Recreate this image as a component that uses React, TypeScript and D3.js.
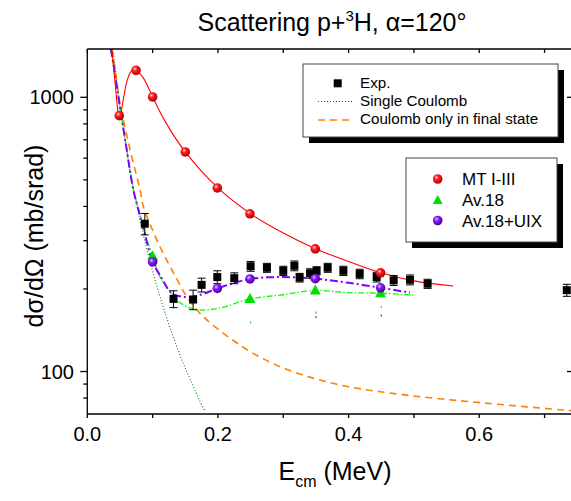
import React from 'react';
import * as d3 from 'd3';

const W = 571;
const H = 501;

// Experimental data
const expE = [0.088, 0.132, 0.162, 0.175, 0.199, 0.225, 0.250, 0.275, 0.300, 0.317, 0.325, 0.341, 0.351, 0.368, 0.392, 0.417, 0.443, 0.469, 0.494, 0.521, 0.734];
const expV = [346, 184, 183, 207, 221, 219, 242, 239, 233, 243, 220, 228, 233, 239, 233, 227, 221, 215, 216, 209, 198];
const expErr = [31, 13, 15, 12, 12, 10, 10, 9, 9, 10, 8, 9, 8, 9, 9, 9, 9, 9, 9, 8, 10];

// MT I-III
const mtCurveE = [0.0374, 0.040, 0.043, 0.046, 0.0485, 0.051, 0.054, 0.057, 0.060, 0.0654, 0.070, 0.0746, 0.080, 0.0858, 0.093, 0.100, 0.120, 0.150, 0.200, 0.250, 0.300, 0.350, 0.400, 0.450, 0.500, 0.560];
const mtCurveV = [1500, 1300, 1100, 927, 850, 870, 950, 1040, 1129, 1227, 1260, 1254, 1222, 1177, 1090, 1003, 810, 632, 467, 376, 320, 280, 252, 229, 214, 205];
const mtMarkE = [0.049, 0.0746, 0.100, 0.150, 0.199, 0.249, 0.349, 0.449];
const mtMarkV = [857, 1254, 1003, 632, 467, 376, 280, 229];

// Av.18
const avCurveE = [0.036, 0.040, 0.045, 0.050, 0.058, 0.0705, 0.080, 0.088, 0.100, 0.111, 0.127, 0.142, 0.1675, 0.203, 0.249, 0.295, 0.349, 0.397, 0.449, 0.499];
const avCurveV = [1500, 1320, 1100, 920, 700, 460, 380, 321, 263, 222, 196, 178, 168, 170.5, 184, 190, 197.6, 194, 193, 190];
const avMarkE = [0.100, 0.249, 0.349, 0.449];
const avMarkV = [263, 184, 197.6, 193];

// Av.18+UIX
const uixCurveE = [0.036, 0.040, 0.045, 0.050, 0.058, 0.0705, 0.080, 0.088, 0.100, 0.111, 0.129, 0.142, 0.157, 0.178, 0.199, 0.249, 0.295, 0.349, 0.397, 0.449, 0.494];
const uixCurveV = [1500, 1320, 1100, 920, 700, 460, 375, 318, 251, 225, 193, 188, 187, 192, 201, 217.5, 221, 218, 211, 202, 194];
const uixMarkE = [0.100, 0.199, 0.249, 0.349, 0.449];
const uixMarkV = [251, 201, 217.5, 218, 202];

// Coulomb only in final state
const cfE = [0.038, 0.044, 0.049, 0.0654, 0.0807, 0.0858, 0.111, 0.132, 0.152, 0.1726, 0.198, 0.25, 0.30, 0.35, 0.40, 0.489, 0.6116, 0.741];
const cfV = [1500, 1200, 980, 645, 460, 400, 286, 229, 188, 163, 144, 118, 103, 94, 88, 82, 76.6, 72];

// Single Coulomb
const scE = [0.040, 0.050, 0.060, 0.070, 0.080, 0.090, 0.100, 0.110, 0.120, 0.130, 0.140, 0.150, 0.160, 0.170, 0.180];
const scV = [1450, 930, 645, 474, 363, 287, 232, 192, 161, 137, 118, 103, 91, 80, 72];

// stray tiny dots
const strayGreenE = [0.25, 0.35, 0.45];
const strayGreenV = [151, 164, 172];
const strayPurpleE = [0.35, 0.45];
const strayPurpleV = [158, 160];

const xTicks = [0, 0.1, 0.2, 0.3, 0.4, 0.5, 0.6, 0.7];
const xTickLabels = ['0.0', '', '0.2', '', '0.4', '', '0.6', ''];
const yMajor = [100, 1000];
const yMinor = [80, 90, 200, 300, 400, 500, 600, 700, 800, 900];

const FONT = '"Liberation Sans", Arial, Helvetica, sans-serif';

export default function App() {
  const x = d3.scaleLinear().domain([0, 0.742]).range([87.3, 572]);
  const y = d3.scaleLog().domain([70, 1500]).range([414, 49]);
  const x0 = x(0), x1 = 572, yT = y(1500), yB = y(70);

  const mk = (xs: number[], ys: number[], curve: any) =>
    d3.line<[number, number]>().x(d => x(d[0])).y(d => y(d[1])).curve(curve)(xs.map((e, i) => [e, ys[i]] as [number, number])) || '';

  const mtPath = mk(mtCurveE, mtCurveV, d3.curveCatmullRom);
  const avPath = mk(avCurveE, avCurveV, d3.curveCatmullRom);
  const uixPath = mk(uixCurveE, uixCurveV, d3.curveCatmullRom);
  const cfPath = mk(cfE, cfV, d3.curveCatmullRom);
  const scPath = mk(scE, scV, d3.curveCatmullRom);

  const tri = (cx: number, cy: number, s: number) =>
    `M${cx},${cy - s * 0.6} L${cx + s * 0.55},${cy + s * 0.4} L${cx - s * 0.55},${cy + s * 0.4} Z`;

  return (
    <svg width={W} height={H} style={{ position: 'absolute', left: 0, top: 0, background: '#fff' }} fontFamily={FONT}>
      <defs>
        <clipPath id="plot">
          <rect x={x0} y={yT} width={x1 - x0} height={yB - yT} />
        </clipPath>
        <radialGradient id="gRed" cx="0.38" cy="0.35" r="0.65">
          <stop offset="0" stopColor="#ffd0d0" />
          <stop offset="0.35" stopColor="#ff2020" />
          <stop offset="1" stopColor="#b00000" />
        </radialGradient>
        <radialGradient id="gPur" cx="0.38" cy="0.35" r="0.65">
          <stop offset="0" stopColor="#e0c8ff" />
          <stop offset="0.35" stopColor="#8a20ff" />
          <stop offset="1" stopColor="#4a0098" />
        </radialGradient>
      </defs>

      {/* Title */}
      <text x={332} y={31} textAnchor="middle" fontSize={25} fill="#000">
        Scattering p+<tspan dy={-10} fontSize={15}>3</tspan><tspan dy={10}>H, α=120°</tspan>
      </text>

      {/* Curves */}
      <g clipPath="url(#plot)" fill="none">
        <path d={scPath} stroke="#008000" strokeWidth={1.1} strokeDasharray="1,2" />
        <path d={cfPath} stroke="#ff8000" strokeWidth={1.6} strokeDasharray="7,5" />
        <path d={avPath} stroke="#00ff00" strokeWidth={1.3} strokeDasharray="6,2,1.5,2" />
        <path d={uixPath} stroke="#8000ff" strokeWidth={2} strokeDasharray="8,3,2,3" />
        <path d={mtPath} stroke="#ff0000" strokeWidth={1.1} />
        {strayGreenE.map((e, i) => (
          <rect key={'sg' + i} x={x(e) - 0.5} y={y(strayGreenV[i]) - 1} width={1} height={2} fill="#00c000" />
        ))}
        {strayPurpleE.map((e, i) => (
          <rect key={'sp' + i} x={x(e) - 0.5} y={y(strayPurpleV[i]) - 1} width={1} height={2} fill="#6000c0" />
        ))}
      </g>

      {/* Exp data */}
      <g clipPath="url(#plot)">
        {expE.map((e, i) => {
          const cx = x(e), cy = y(expV[i]);
          const yt = y(expV[i] + expErr[i]), yb = y(expV[i] - expErr[i]);
          return (
            <g key={'ex' + i}>
              <line x1={cx} x2={cx} y1={yt} y2={yb} stroke="#000" strokeWidth={1} />
              <line x1={cx - 4} x2={cx + 4} y1={yt} y2={yt} stroke="#000" strokeWidth={1} />
              <line x1={cx - 4} x2={cx + 4} y1={yb} y2={yb} stroke="#000" strokeWidth={1} />
              <rect x={cx - 4} y={cy - 4} width={8} height={8} fill="#000" />
            </g>
          );
        })}
      </g>

      {/* Theory markers */}
      <g>
        {avMarkE.map((e, i) => (
          <path key={'av' + i} d={tri(x(e), y(avMarkV[i]), 10)} fill="#00e000" />
        ))}
        {mtMarkE.map((e, i) => (
          <circle key={'mt' + i} cx={x(e)} cy={y(mtMarkV[i])} r={4.8} fill="url(#gRed)" />
        ))}
        {uixMarkE.map((e, i) => (
          <circle key={'ux' + i} cx={x(e)} cy={y(uixMarkV[i])} r={4.8} fill="url(#gPur)" />
        ))}
      </g>

      {/* Axes */}
      <g stroke="#000" strokeWidth={1.3} fill="none">
        <line x1={x0} x2={x0} y1={yT} y2={yB} />
        <line x1={x0} x2={W} y1={yB} y2={yB} />
        <line x1={x0} x2={W} y1={yT} y2={yT} />
        {xTicks.map((t, i) => (
          <g key={'xt' + i}>
            <line x1={x(t)} x2={x(t)} y1={yB} y2={yB + 4} />
            <line x1={x(t)} x2={x(t)} y1={yT} y2={yT + 4} />
          </g>
        ))}
        {yMajor.map((t, i) => (
          <g key={'ym' + i}>
            <line x1={x0 - 7} x2={x0} y1={y(t)} y2={y(t)} />
            <line x1={x1 - 5} x2={x1} y1={y(t)} y2={y(t)} />
          </g>
        ))}
        {yMinor.map((t, i) => (
          <line key={'yn' + i} x1={x0 - 4} x2={x0} y1={y(t)} y2={y(t)} />
        ))}
      </g>
      <g fontSize={20} fill="#000">
        {xTicks.map((t, i) => xTickLabels[i] ? (
          <text key={'xl' + i} x={x(t)} y={441} textAnchor="middle">{xTickLabels[i]}</text>
        ) : null)}
        {yMajor.map((t, i) => (
          <text key={'yl' + i} x={74} y={y(t) + 7} textAnchor="end">{d3.format('d')(t)}</text>
        ))}
      </g>

      {/* Axis titles */}
      <text x={335} y={480} textAnchor="middle" fontSize={25} fill="#000">
        E<tspan dy={7} fontSize={16}>cm</tspan><tspan dy={-7}> (MeV)</tspan>
      </text>
      <text transform={`translate(43, 236) rotate(-90)`} textAnchor="middle" fontSize={25} fill="#000">
        dσ/dΩ (mb/srad)
      </text>

      {/* Legend 1 */}
      <g>
        <rect x={309} y={70} width={255} height={73} fill="#000" />
        <rect x={303} y={64} width={255} height={73} fill="#fff" stroke="#444" strokeWidth={1} />
        <rect x={333.7} y={79.3} width={8} height={8} fill="#000" />
        <line x1={318} x2={353} y1={101.5} y2={101.5} stroke="#008000" strokeWidth={1.1} strokeDasharray="1,2" />
        <line x1={318} x2={353} y1={120} y2={120} stroke="#ff8000" strokeWidth={1.6} strokeDasharray="7,5" />
        <g fontSize={15.2} fill="#000">
          <text x={360} y={88.3}>Exp.</text>
          <text x={360} y={106.3}>Single Coulomb</text>
          <text x={360} y={124.3}>Coulomb only in final state</text>
        </g>
      </g>

      {/* Legend 2 */}
      <g>
        <rect x={412} y={164} width={151} height={84} fill="#000" />
        <rect x={406} y={158} width={151} height={84} fill="#fff" stroke="#444" strokeWidth={1} />
        <circle cx={437.7} cy={179} r={4.8} fill="url(#gRed)" />
        <path d={tri(437.7, 200.5, 9)} fill="#00e000" />
        <circle cx={437.7} cy={220.5} r={4.8} fill="url(#gPur)" />
        <g fontSize={17} fill="#000">
          <text x={462} y={185}>MT I-III</text>
          <text x={462} y={206}>Av.18</text>
          <text x={462} y={226.5}>Av.18+UIX</text>
        </g>
      </g>
    </svg>
  );
}
